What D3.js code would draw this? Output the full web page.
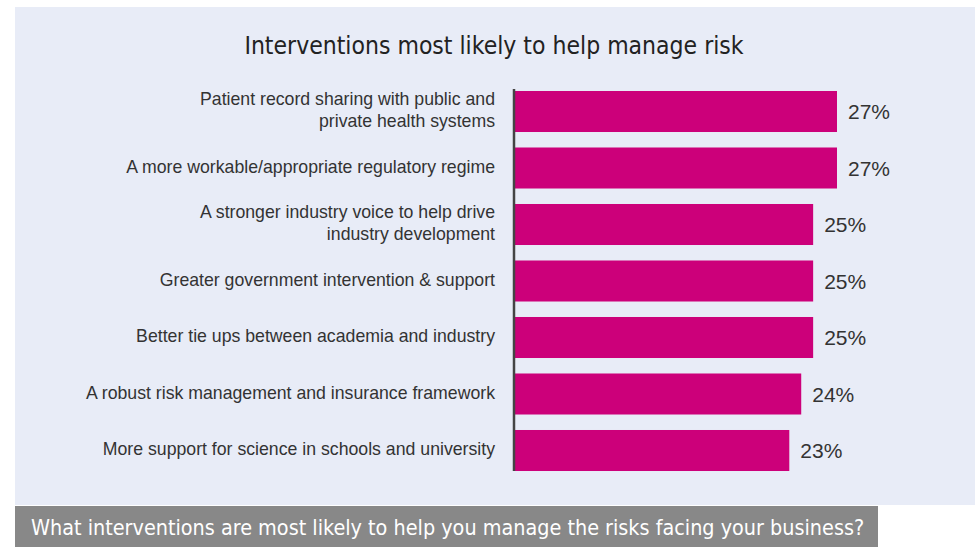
<!DOCTYPE html>
<html>
<head>
<meta charset="utf-8">
<script src="https://cdn.jsdelivr.net/npm/d3@7"></script>
<style>
  html, body { margin: 0; padding: 0; background: #ffffff; }
  svg { display: block; }
</style>
</head>
<body>
<div id="chart"></div>
<script>
const title = "Interventions most likely to help manage risk";
const question = "What interventions are most likely to help you manage the risks facing your business?";

// one entry per bar, top to bottom; multi-line labels split into lines
const categories = [
  ["Patient record sharing with public and", "private health systems"],
  ["A more workable/appropriate regulatory regime"],
  ["A stronger industry voice to help drive", "industry development"],
  ["Greater government intervention & support"],
  ["Better tie ups between academia and industry"],
  ["A robust risk management and insurance framework"],
  ["More support for science in schools and university"],
];
const values = [27, 27, 25, 25, 25, 24, 23];

const width = 979;
const height = 547;
const BAR_COLOR = "#cc007a";
const PANEL_COLOR = "#e8ecf7";
const CONDENSED = "'DejaVu Sans Condensed', 'Liberation Sans Narrow', sans-serif";

const svg = d3
  .select("#chart")
  .append("svg")
  .attr("width", width)
  .attr("height", height);

// light panel behind the chart
svg
  .append("rect")
  .attr("x", 15)
  .attr("y", 7)
  .attr("width", 960)
  .attr("height", 498)
  .attr("fill", PANEL_COLOR);

svg
  .append("text")
  .attr("x", 494)
  .attr("y", 54)
  .attr("text-anchor", "middle")
  .style("font-family", CONDENSED)
  .style("font-size", "24.5px")
  .style("fill", "#222")
  .text(title);

const idx = values.map((d, i) => i);

const y = d3
  .scaleBand()
  .domain(idx)
  .range([83.25, 478.75])
  .paddingInner(0.274)
  .paddingOuter(0.137);

const x = d3.scaleLinear().domain([0, 27]).range([515, 837]);

// bars
svg
  .selectAll(".bar")
  .data(values)
  .enter()
  .append("rect")
  .attr("class", "bar")
  .attr("x", x(0))
  .attr("y", (d, i) => y(i))
  .attr("width", (d) => x(d) - x(0))
  .attr("height", y.bandwidth())
  .attr("fill", BAR_COLOR);

// vertical axis line
svg
  .append("line")
  .attr("x1", x(0) - 1)
  .attr("x2", x(0) - 1)
  .attr("y1", y(0) - 2)
  .attr("y2", y(values.length - 1) + y.bandwidth())
  .attr("stroke", "#444")
  .attr("stroke-width", 2.5);

// value labels
svg
  .selectAll(".value")
  .data(values)
  .enter()
  .append("text")
  .attr("class", "value")
  .attr("x", (d) => x(d) + 11)
  .attr("y", (d, i) => y(i) + y.bandwidth() / 2 + 7.5)
  .style("font-family", "'Liberation Sans', Arial, sans-serif")
  .style("font-size", "21px")
  .style("fill", "#333")
  .text((d) => `${d}%`);

// category labels, right aligned against the axis
const labels = svg
  .selectAll(".label")
  .data(categories)
  .enter()
  .append("text")
  .attr("class", "label")
  .attr("text-anchor", "end")
  .style("font-family", "'Liberation Sans', Arial, sans-serif")
  .style("font-size", "17.7px")
  .style("fill", "#333");

labels
  .selectAll("tspan")
  .data((d, i) => d.map((line, j) => ({ line, j, n: d.length, i })))
  .enter()
  .append("tspan")
  .attr("x", 495)
  .attr("y", (d) => y(d.i) + y.bandwidth() / 2 + 4.5 + (d.j - (d.n - 1) / 2) * 22)
  .text((d) => d.line);

// question band at the bottom
svg
  .append("rect")
  .attr("x", 15)
  .attr("y", 506)
  .attr("width", 863)
  .attr("height", 41)
  .attr("fill", "#888888");

svg
  .append("text")
  .attr("x", 31)
  .attr("y", 535)
  .style("font-family", CONDENSED)
  .style("font-size", "21.4px")
  .style("fill", "#ffffff")
  .text(question);
</script>
</body>
</html>
